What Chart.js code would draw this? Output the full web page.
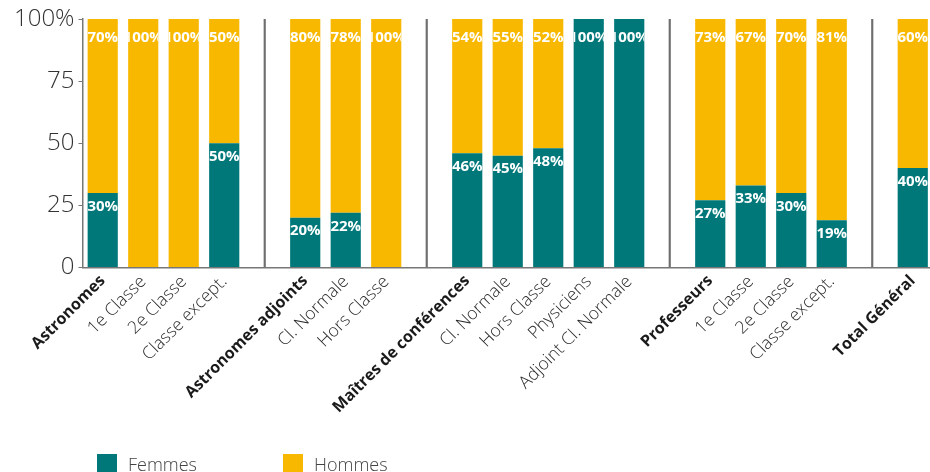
<!DOCTYPE html>
<html>
<head>
<meta charset="utf-8">
<script src="https://cdn.jsdelivr.net/npm/chart.js@4"></script>
<style>
  html, body { margin: 0; padding: 0; background: #fff; }
  #wrap { position: relative; width: 930px; height: 472px; overflow: hidden; }
  #c { position: absolute; left: 0; top: 0; }
  .lg { position: absolute; top: 452px; font-family: 'Open Sans', sans-serif; font-weight: 300; font-size: 18px; color: #444; display: flex; align-items: center; }
  .lg span.sw { display: inline-block; width: 20px; height: 20px; margin-right: 11px; }
</style>
</head>
<body>
<div id="wrap">
  <canvas id="c" width="933" height="472"></canvas>
  <div class="lg" style="left:97px"><span class="sw" style="background:#00787A"></span>Femmes</div>
  <div class="lg" style="left:283px"><span class="sw" style="background:#F9B800"></span>Hommes</div>
</div>
<script>
const categories = ['Astronomes', '1e Classe', '2e Classe', 'Classe except.', '',
  'Astronomes adjoints', 'Cl. Normale', 'Hors Classe', '',
  'Maîtres de conférences', 'Cl. Normale', 'Hors Classe', 'Physiciens', 'Adjoint Cl. Normale', '',
  'Professeurs', '1e Classe', '2e Classe', 'Classe except.', '',
  'Total Général'];
const groupHeaders = ['Astronomes', 'Astronomes adjoints', 'Maîtres de conférences', 'Professeurs', 'Total Général'];
const femmes = [30, 0, 0, 50, null, 20, 22, 0, null, 46, 45, 48, 100, 100, null, 27, 33, 30, 19, null, 40];
const hommes = [70, 100, 100, 50, null, 80, 78, 100, null, 54, 55, 52, 0, 0, null, 73, 67, 70, 81, null, 60];
const separators = [null, null, null, null, 100, null, null, null, 100, null, null, null, null, null, 100, null, null, null, null, 100, null];
const yTicks = [0, 25, 50, 75, 100];

const TEAL = '#00787A', GOLD = '#F9B800';

const labelPlugin = {
  id: 'barLabels',
  afterDatasetsDraw(chart) {
    const ctx = chart.ctx;
    const yScale = chart.scales.y;
    [0, 1].forEach(di => {
      const meta = chart.getDatasetMeta(di);
      const data = chart.data.datasets[di].data;
      meta.data.forEach((el, i) => {
        const v = data[i];
        if (!v) return;
        const top = Math.min(el.y, el.base);
        const atTop = Math.abs(top - yScale.getPixelForValue(100)) < 1;
        const ty = top + (atTop ? 19 : 13.5);
        ctx.save();
        ctx.beginPath();
        ctx.rect(el.x - el.width / 2, top, el.width, Math.abs(el.base - el.y));
        ctx.clip();
        ctx.fillStyle = '#fff';
        ctx.font = 'bold 15px "Open Sans", sans-serif';
        ctx.textAlign = 'center';
        ctx.textBaseline = 'middle';
        ctx.fillText(v + '%', el.x, ty);
        ctx.restore();
      });
    });
  }
};

new Chart(document.getElementById('c'), {
  type: 'bar',
  data: {
    labels: categories,
    datasets: [
      { label: 'Femmes', data: femmes, backgroundColor: TEAL, barPercentage: 0.745, categoryPercentage: 1 },
      { label: 'Hommes', data: hommes, backgroundColor: GOLD, barPercentage: 0.745, categoryPercentage: 1 },
      { label: 'sep', data: separators, backgroundColor: '#6e6e6e', barThickness: 1.5 }
    ]
  },
  options: {
    responsive: false,
    animation: false,
    events: [],
    layout: { padding: { left: 10, right: 0, top: 19, bottom: 50 } },
    plugins: { legend: { display: false }, tooltip: { enabled: false } },
    scales: {
      x: {
        stacked: true,
        grid: { display: false, drawTicks: false },
        border: { display: true, color: '#777', width: 1.5 },
        ticks: {
          autoSkip: false,
          maxRotation: 45,
          minRotation: 45,
          padding: 4,
          color: (c) => groupHeaders.includes(categories[c.index]) ? '#1a1a1a' : '#2a2a2a',
          font: (c) => {
            const bold = groupHeaders.includes(categories[c.index]);
            return { family: '"Open Sans", sans-serif', size: bold ? 16 : 17.5, weight: bold ? 'bold' : '300' };
          }
        }
      },
      y: {
        stacked: true,
        min: 0,
        max: 100,
        afterBuildTicks: (s) => { s.ticks = yTicks.map(v => ({ value: v })); },
        grid: { display: true, drawOnChartArea: false, drawTicks: true, tickLength: 4, color: '#777' },
        border: { display: true, color: '#777', width: 1.5 },
        ticks: {
          padding: 4,
          color: '#333',
          font: { family: '"Open Sans", sans-serif', size: 24, weight: '300' },
          callback: (v) => v === 100 ? '100%' : String(v)
        }
      }
    }
  },
  plugins: [labelPlugin]
});
</script>
</body>
</html>
